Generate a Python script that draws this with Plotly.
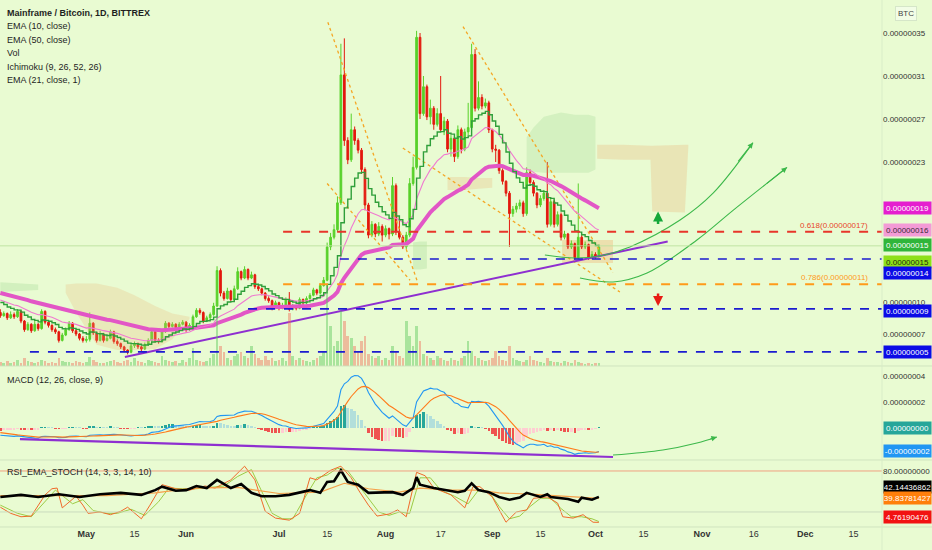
import plotly.graph_objects as go

# ---------------- data (prices in satoshi = 1e-8 BTC) ----------------
BAR0 = -81  # bar index of first candle; bar 0 = Jul 1
first_open = 9.0
closes = [
    8.7, 8.9, 8.5, 8.8, 8.6, 9.1, 8.2, 7.4, 7.9, 7.3,
    7.9, 7.5, 9.1, 8.1, 7.8, 7.4, 7.2, 6.4, 6.9, 7.4,
    8.0, 7.3, 7.0, 6.6, 6.4, 6.5, 8.0, 7.1, 6.4, 7.0,
    6.4, 6.6, 7.2, 6.3, 6.1, 5.8, 5.5, 5.3, 5.9, 6.1,
    5.8, 5.6, 6.0, 6.4, 7.2, 6.4, 6.3, 7.2, 8.0, 7.7,
    7.9, 7.6, 7.9, 8.1, 7.4, 7.8, 8.6, 9.2, 9.0, 8.2,
    8.5, 8.8, 9.6, 12.9, 10.8, 10.3, 11.0, 10.2, 11.2, 12.8,
    12.2, 13.0, 12.2, 12.5, 11.4, 11.2, 10.8, 10.3, 10.1, 9.4,
    9.9, 9.4, 9.6, 10.2, 9.3, 9.6, 9.4, 10.2, 9.9, 10.3,
    10.6, 11.1, 10.8, 11.5, 12.0, 15.1, 16.0, 16.7, 19.2, 31.1,
    25.0, 23.2, 26.0, 25.0, 24.1, 22.3, 19.0, 16.2, 17.2, 16.3,
    17.0, 16.2, 16.8, 16.3, 20.8, 16.5, 16.0, 15.1, 16.2, 21.0,
    22.5, 34.6, 27.5, 30.0, 27.2, 28.0, 26.5, 27.5, 26.0, 26.8,
    24.2, 25.2, 23.5, 26.0, 24.2, 25.8, 26.2, 33.0, 28.0, 29.0,
    28.2, 28.5, 26.0, 24.2, 24.1, 22.2, 21.2, 20.1, 18.2, 18.6,
    18.9, 19.2, 18.2, 22.0, 21.1, 20.1, 19.0, 19.6, 20.1, 17.2,
    19.3, 17.2, 18.1, 16.0, 16.3, 15.1, 15.4, 14.1, 16.0, 15.1,
    15.3, 14.1, 14.4, 14.2, 15.1,
]
highs = [
    9.3, 9.1, 9.0, 9.1, 9.0, 9.3, 9.2, 8.3, 8.1, 8.0,
    8.2, 8.0, 9.3, 9.2, 8.3, 7.9, 7.6, 7.3, 7.1, 7.6,
    8.2, 8.1, 7.4, 7.1, 6.8, 6.8, 9.0, 8.1, 7.2, 7.3,
    7.1, 6.9, 7.4, 7.3, 6.5, 6.2, 5.9, 5.6, 6.1, 6.3,
    6.2, 5.9, 6.2, 6.6, 7.4, 7.3, 6.6, 7.4, 8.2, 8.1,
    8.1, 8.0, 8.1, 8.3, 8.2, 8.0, 8.8, 9.4, 9.4, 9.1,
    8.7, 9.0, 9.9, 13.3, 13.1, 11.0, 11.3, 11.1, 11.5, 13.2,
    12.9, 13.3, 13.1, 12.8, 12.6, 11.6, 11.3, 10.9, 10.5, 10.2,
    10.1, 10.0, 9.9, 10.4, 10.9, 9.8, 9.7, 10.4, 10.3, 10.5,
    10.8, 11.3, 11.2, 11.7, 12.3, 15.5, 16.4, 17.2, 19.8, 34.0,
    34.5, 25.3, 27.5, 26.3, 25.2, 24.3, 22.5, 19.2, 17.5, 17.3,
    17.4, 17.2, 17.1, 16.9, 21.6, 21.0, 17.9, 16.2, 16.5, 21.5,
    23.5, 35.2, 35.0, 31.0, 30.2, 28.8, 28.2, 28.0, 31.0, 27.2,
    27.0, 25.5, 25.3, 26.4, 26.2, 26.1, 28.5, 34.0, 33.5, 30.5,
    29.3, 28.9, 28.7, 26.1, 24.6, 24.2, 22.4, 21.3, 20.3, 18.9,
    19.2, 19.5, 19.4, 22.5, 22.3, 21.3, 20.2, 19.9, 20.4, 23.0,
    19.6, 19.5, 18.4, 18.3, 16.6, 16.4, 15.7, 15.5, 21.0, 16.2,
    15.6, 15.4, 14.7, 14.6, 15.3,
]
lows = [
    8.5, 8.6, 8.3, 8.4, 8.4, 8.5, 8.0, 7.2, 7.3, 7.1,
    7.2, 7.3, 7.4, 7.9, 7.6, 7.2, 7.0, 6.2, 6.3, 6.8,
    7.3, 7.1, 6.8, 6.4, 6.2, 6.2, 6.3, 6.9, 6.2, 6.3,
    6.2, 6.3, 6.5, 6.1, 5.9, 5.6, 5.3, 5.1, 5.2, 5.7,
    5.6, 5.4, 5.5, 5.9, 6.3, 6.2, 6.1, 6.2, 7.1, 7.5,
    7.6, 7.4, 7.5, 7.8, 7.2, 7.3, 7.7, 8.5, 8.8, 8.0,
    8.1, 8.4, 8.7, 9.5, 10.5, 10.1, 10.2, 10.0, 10.1, 11.1,
    12.0, 12.1, 12.0, 12.1, 11.2, 11.0, 10.6, 10.1, 9.9, 9.2,
    9.3, 9.2, 9.3, 9.5, 9.1, 9.2, 9.2, 9.3, 9.7, 9.8,
    10.2, 10.5, 10.6, 10.7, 11.4, 11.9, 14.8, 15.8, 16.5, 19.0,
    24.5, 22.8, 23.0, 24.6, 23.8, 21.9, 18.5, 15.9, 16.0, 16.0,
    16.1, 15.6, 16.0, 15.8, 16.1, 16.2, 15.8, 14.9, 14.9, 16.0,
    20.8, 22.3, 27.0, 27.3, 26.9, 26.5, 26.0, 26.3, 25.8, 25.5,
    23.9, 23.5, 23.0, 23.3, 23.8, 24.0, 25.5, 26.0, 27.7, 27.8,
    27.9, 28.0, 25.7, 23.9, 23.0, 21.9, 20.9, 19.8, 15.1, 17.9,
    18.3, 18.6, 17.9, 18.0, 20.8, 19.8, 18.7, 18.8, 19.4, 16.9,
    17.0, 16.9, 17.0, 15.7, 15.8, 14.9, 14.9, 13.9, 14.0, 14.9,
    14.9, 13.9, 14.0, 14.0, 14.1,
]
volumes = [
    4, 3, 5, 3, 4, 6, 3, 8, 5, 4,
    3, 4, 6, 5, 3, 4, 3, 8, 5, 4,
    4, 3, 5, 4, 3, 4, 9, 6, 4, 3,
    3, 4, 5, 6, 4, 3, 5, 6, 4, 8,
    5, 4, 3, 6, 5, 4, 3, 10, 6, 5,
    4, 5, 3, 6, 4, 8, 18, 6, 5, 4,
    5, 8, 12, 48, 20, 14, 8, 6, 10, 12,
    14, 10, 8, 20, 12, 8, 6, 10, 6, 8,
    5, 6, 8, 5, 53, 10, 6, 8, 6, 5,
    4, 6, 8, 10, 15, 75, 40, 20, 25, 55,
    45, 30, 28, 20, 15, 25, 30, 12, 10, 8,
    10, 6, 8, 6, 20, 15, 10, 8, 45, 30,
    20, 40, 25, 12, 10, 8, 6, 10, 8, 6,
    5, 8, 6, 5, 8, 10, 25, 15, 10, 8,
    6, 5, 6, 8, 15, 10, 6, 5, 20, 8,
    6, 5, 4, 6, 10, 6, 5, 4, 3, 8,
    5, 4, 4, 3, 5, 4, 3, 6, 4, 3,
    2, 3, 2, 3, 3,
]
# indicator seeds read at the left edge
ema10_seed, ema21_seed, ema50_seed = 10.2, 10.3, 10.9
ema12_seed, ema26_seed, signal_seed = 9.9, 10.4, -0.3

# RSI_EMA_STOCH pane (bar index, value)
rsi_x = [-81, -75, -70, -64, -58, -52, -46, -40, -36, -34, -30, -27, -24, -21, -18, -14, -11, -8, -5, -1,
         3, 6, 9, 12, 14, 16, 18, 20, 23, 26, 29, 33, 36, 39, 40, 41, 45, 49, 52, 54,
         56, 58, 61, 64, 67, 70, 72, 76, 78, 79, 84, 87, 88, 91, 93]
rsi_v = [42, 45, 42, 46, 42, 46, 48, 45, 52, 57, 51, 52, 58, 55, 67, 55, 61, 48, 43, 43,
         45, 49, 52, 48, 64, 65, 81, 64, 60, 48, 48, 49, 45, 55, 71, 60, 55, 52, 49, 51,
         62, 52, 49, 42, 38, 41, 48, 42, 46, 42, 39, 35, 41, 38, 42.1]
rsi_ema_x = [-81, -50, -36, -25, -12, 0, 12, 19, 26, 35, 41, 50, 58, 64, 73, 82, 93]
rsi_ema_v = [44, 44, 48, 55, 56, 47, 49, 62, 54, 49, 55, 52, 52, 48, 46, 43, 39.8]
stk_x = [-81, -78, -75, -72, -68, -66, -64.5, -63, -59, -57, -55.5, -52, -49, -46, -44, -40, -37.5, -34, -30, -26,
         -21.5, -18.6, -14, -10, -7, -4, -1, 3, 6, 9, 11, 15, 18, 21, 23.5, 26, 28.5, 32, 34.5, 37,
         40, 42.5, 45, 50, 54, 56.4, 58.4, 62, 65, 66, 69, 72, 74, 78, 81, 82.5, 85.5, 88.4, 91.3, 93]
stk_v = [27, 18, 13, 14, 45, 54, 55, 26, 43, 30, 18, 20, 16, 21, 27, 10, 30, 60, 54, 52,
         58, 55, 67, 87, 67, 21, 11, 8, 18, 70, 67, 81, 87, 70, 49, 30, 14, 17, 23, 13,
         78, 73, 55, 45, 26, 57, 57, 42, 14, 5, 20, 23, 40, 42, 33, 13, 11, 16, 5, 4.8]
std_x = [-81, -76, -72, -69, -65, -62, -60, -57, -54, -50, -47, -43, -39, -35, -32, -28, -24, -20, -16, -12,
         -8, -5, -2, 1, 4, 8, 11, 14, 17, 20, 23, 26, 29, 32, 35, 38, 41, 44, 47, 51,
         55, 58, 61, 64, 67, 70, 73, 76, 79, 82, 85, 88, 91, 93]
std_v = [30, 18, 13, 30, 52, 40, 32, 38, 22, 18, 18, 24, 15, 35, 55, 54, 54, 56, 58, 72,
         82, 50, 18, 10, 10, 45, 70, 74, 84, 80, 60, 40, 20, 15, 20, 18, 70, 70, 52, 43,
         32, 52, 50, 28, 10, 14, 28, 40, 40, 25, 13, 13, 10, 6]

# Ichimoku cloud segments: (bars, upper span, lower span)
cloud_a_x = [-81, -75, -70]
cloud_a_top = [11.8, 11.7, 11.6]
cloud_a_bot = [10.9, 11.0, 11.1]
cloud_b_x = [-62, -59, -53, -47, -42, -36, -31, -26]
cloud_b_top = [11.6, 11.7, 11.7, 11.3, 10.6, 9.6, 8.9, 8.6]
cloud_b_bot = [10.8, 9.0, 6.0, 5.5, 5.5, 5.6, 6.5, 8.4]
cloud_c_x = [39, 41, 43]
cloud_c_top = [15.5, 15.6, 15.6]
cloud_c_bot = [13.0, 13.0, 13.1]
cloud_d_x = [49, 54, 58, 62]
cloud_d_top = [21.6, 21.6, 21.5, 21.5]
cloud_d_bot = [20.4, 20.4, 20.5, 20.6]
cloud_e_x = [72, 74, 77, 82, 86, 90, 92]
cloud_e_top = [25.3, 26.2, 27.2, 27.6, 27.4, 27.4, 27.2]
cloud_e_bot = [22.1, 22.1, 22.0, 22.0, 22.0, 22.0, 22.3]
cloud_f_x = [92.5, 100, 108, 108.5, 118, 119]
cloud_f_top = [24.6, 24.6, 24.5, 24.5, 24.6, 24.6]
cloud_f_bot = [23.3, 23.2, 23.2, 18.4, 18.3, 24.4]

# horizontal levels: (price, first bar)
fib618, fib786 = 16.52, 11.62
blue_levels = [(13.98, 17.7), (9.33, -9.0), (5.33, -72.4)]
last_price_line = 15.2

# trendlines (bar, price)
purple_main = [(-44.8, 4.86), (113.0, 15.6)]
purple_macd = [(-75.3, -0.85), (97.1, -2.23)]
dotted_lines = [[(14.2, 36.0), (40.1, 12.0)], [(14.0, 21.0), (38.1, 12.0)],
                [(36.0, 24.3), (99.1, 10.9)], [(53.5, 35.6), (97.1, 12.7)]]
curve_a_x = [77.3, 86.0, 93.3, 102.0, 116.6, 126.2, 137.8]
curve_a_y = [14.35, 14.07, 14.26, 15.1, 17.6, 20.1, 24.8]
curve_b_x = [87.5, 97.1, 107.0, 121.5, 132.0, 147.7]
curve_b_y = [12.2, 11.84, 12.67, 15.74, 18.5, 22.5]
curve_m_x = [97.1, 111.6, 121.5, 127.3]
curve_m_y = [-2.08, -1.69, -1.15, -0.69]
box_bars = (82.3, 97.1)
box_prices = (13.6, 15.74)

tick_bars = [-56, -42, -27, 0, 14, 31, 47, 62, 76, 92, 106, 123, 138, 153, 167]
tick_text = ["<b>May</b>", "15", "<b>Jun</b>", "<b>Jul</b>", "15", "<b>Aug</b>", "17", "<b>Sep</b>", "15",
             "<b>Oct</b>", "15", "<b>Nov</b>", "16", "<b>Dec</b>", "15"]
price_ticks = [7, 10, 23, 27, 31, 35]
macd_ticks = [2, 4]

# ---------------- derived ----------------
bars = list(range(BAR0, BAR0 + len(closes)))
opens = [first_open] + closes[:-1]
highs = [max(h, o, c) for h, o, c in zip(highs, opens, closes)]
lows = [min(l, o, c) for l, o, c in zip(lows, opens, closes)]


def ema(vals, n, seed):
    a = 2.0 / (n + 1)
    e = seed
    out = []
    for v in vals:
        e = e + a * (v - e)
        out.append(e)
    return out


ema10 = ema(closes, 10, ema10_seed)
ema21 = ema(closes, 21, ema21_seed)
ema50 = ema(closes, 50, ema50_seed)
macd = [a - b for a, b in zip(ema(closes, 12, ema12_seed), ema(closes, 26, ema26_seed))]
signal = ema(macd, 9, signal_seed)
hist = [m - s for m, s in zip(macd, signal)]
hist_col = []
prev = 0
for h in hist:
    if h >= 0:
        hist_col.append("#26a69a" if h >= prev else "#b2dfdb")
    else:
        hist_col.append("#ffcdd2" if h > prev else "#ef5350")
    prev = h

W, H = 932, 550
PLOT_R = 882
XR = [-81.1, 175.3]
BG = "#e9fbd2"
FONT = "Liberation Sans, Arial, sans-serif"


def py(px):
    return 1 - px / H


fig = go.Figure()

# Ichimoku clouds
for xs, top, bot, col in [(cloud_a_x, cloud_a_top, cloud_a_bot, "rgba(120,200,110,0.20)"),
                          (cloud_b_x, cloud_b_top, cloud_b_bot, "rgba(235,180,120,0.26)"),
                          (cloud_c_x, cloud_c_top, cloud_c_bot, "rgba(120,200,110,0.20)"),
                          (cloud_d_x, cloud_d_top, cloud_d_bot, "rgba(235,180,120,0.28)"),
                          (cloud_e_x, cloud_e_top, cloud_e_bot, "rgba(130,205,120,0.20)"),
                          (cloud_f_x, cloud_f_top, cloud_f_bot, "rgba(235,180,120,0.30)")]:
    fig.add_trace(go.Scatter(x=xs, y=bot, mode="lines", line=dict(width=0), hoverinfo="skip",
                             showlegend=False, yaxis="y"))
    fig.add_trace(go.Scatter(x=xs, y=top, mode="lines", line=dict(width=0), fill="tonexty",
                             fillcolor=col, hoverinfo="skip", showlegend=False, yaxis="y"))

# volume
vol_col = ["rgba(90,200,90,0.45)" if c >= o else "rgba(240,110,90,0.45)" for o, c in zip(opens, closes)]
fig.add_trace(go.Bar(x=bars, y=volumes, marker=dict(color=vol_col, line=dict(width=0)), width=0.75,
                     yaxis="y4", showlegend=False))

# tan box
fig.add_shape(type="rect", x0=box_bars[0], x1=box_bars[1], y0=box_prices[0], y1=box_prices[1],
              xref="x", yref="y", fillcolor="rgba(240,190,130,0.45)", line=dict(width=0), layer="below")

# horizontal lines
fig.add_shape(type="line", x0=XR[0], x1=XR[1], y0=last_price_line, y1=last_price_line, xref="x", yref="y",
              line=dict(color="rgba(190,225,160,0.9)", width=1))
fig.add_shape(type="line", x0=1.2, x1=XR[1], y0=fib618, y1=fib618, xref="x", yref="y",
              line=dict(color="#e8352a", width=2, dash="dash"))
fig.add_shape(type="line", x0=1.2, x1=XR[1], y0=fib786, y1=fib786, xref="x", yref="y",
              line=dict(color="#ff9a1a", width=2, dash="dash"))
for lvl, x0 in blue_levels:
    fig.add_shape(type="line", x0=x0, x1=XR[1], y0=lvl, y1=lvl, xref="x", yref="y",
                  line=dict(color="#1b1bd0", width=1.6, dash="dash"))

# dotted trendlines
for (xa, ya), (xb, yb) in dotted_lines:
    fig.add_trace(go.Scatter(x=[xa, xb], y=[ya, yb], mode="lines", line=dict(color="#f5a623", width=1.3, dash="dot"),
                             hoverinfo="skip", showlegend=False, yaxis="y"))

# EMAs
fig.add_trace(go.Scatter(x=bars, y=ema50, mode="lines", line=dict(color="#e256c6", width=4),
                         hoverinfo="skip", showlegend=False, yaxis="y"))
fig.add_trace(go.Scatter(x=bars, y=ema21, mode="lines", line=dict(color="#f07ad0", width=1.1),
                         hoverinfo="skip", showlegend=False, yaxis="y"))
fig.add_trace(go.Scatter(x=bars, y=ema10, mode="lines", line=dict(color="#2f9f3a", width=1.4, shape="hv"),
                         hoverinfo="skip", showlegend=False, yaxis="y"))

# candles
fig.add_trace(go.Candlestick(x=bars, open=opens, high=highs, low=lows, close=closes,
                             increasing=dict(line=dict(color="#58d12a", width=1), fillcolor="#58d12a"),
                             decreasing=dict(line=dict(color="#e3190e", width=1), fillcolor="#e3190e"),
                             whiskerwidth=0, showlegend=False, yaxis="y"))

# purple trendline main
fig.add_trace(go.Scatter(x=[p[0] for p in purple_main], y=[p[1] for p in purple_main], mode="lines",
                         line=dict(color="#8e2fd0", width=2), hoverinfo="skip", showlegend=False, yaxis="y"))

# green curved arrows
for xs, ys, ax in [(curve_a_x, curve_a_y, "y"), (curve_b_x, curve_b_y, "y"), (curve_m_x, curve_m_y, "y2")]:
    fig.add_trace(go.Scatter(x=xs, y=ys, mode="lines", line=dict(color="#3cb84a", width=1.1, shape="spline"),
                             hoverinfo="skip", showlegend=False, yaxis=ax))
    fig.add_annotation(x=xs[-1], y=ys[-1], ax=xs[-2] + (xs[-1] - xs[-2]) * 0.6, ay=ys[-2] + (ys[-1] - ys[-2]) * 0.6,
                       xref="x", yref=ax, axref="x", ayref=ax, showarrow=True, arrowhead=2, arrowsize=1,
                       arrowwidth=1.1, arrowcolor="#3cb84a", text="")

# up / down arrows
fig.add_annotation(x=110.2, y=18.4, ax=110.2, ay=17.1, xref="x", yref="y", axref="x", ayref="y", text="",
                   showarrow=True, arrowhead=2, arrowsize=0.8, arrowwidth=2.5, arrowcolor="#14a83a")
fig.add_annotation(x=110.2, y=9.6, ax=110.2, ay=10.9, xref="x", yref="y", axref="x", ayref="y", text="",
                   showarrow=True, arrowhead=2, arrowsize=0.8, arrowwidth=2.5, arrowcolor="#e81c14")

# MACD pane
fig.add_trace(go.Bar(x=bars, y=hist, marker=dict(color=hist_col, line=dict(width=0)), width=0.75,
                     yaxis="y2", showlegend=False))
fig.add_trace(go.Scatter(x=bars, y=macd, mode="lines", line=dict(color="#2196f3", width=1.1),
                         hoverinfo="skip", showlegend=False, yaxis="y2"))
fig.add_trace(go.Scatter(x=bars, y=signal, mode="lines", line=dict(color="#ff7a1a", width=1.1),
                         hoverinfo="skip", showlegend=False, yaxis="y2"))
fig.add_trace(go.Scatter(x=[p[0] for p in purple_macd], y=[p[1] for p in purple_macd], mode="lines",
                         line=dict(color="#8e2fd0", width=2.2), hoverinfo="skip", showlegend=False, yaxis="y2"))

# RSI pane
fig.add_shape(type="line", x0=XR[0], x1=XR[1], y0=80, y1=80, xref="x", yref="y3",
              line=dict(color="#f0a080", width=1))
fig.add_shape(type="line", x0=XR[0], x1=XR[1], y0=20, y1=20, xref="x", yref="y3",
              line=dict(color="rgba(200,215,190,0.9)", width=1))
fig.add_trace(go.Scatter(x=std_x, y=std_v, mode="lines", line=dict(color="#9ccc45", width=1),
                         hoverinfo="skip", showlegend=False, yaxis="y3"))
fig.add_trace(go.Scatter(x=stk_x, y=stk_v, mode="lines", line=dict(color="#f06a2a", width=1),
                         hoverinfo="skip", showlegend=False, yaxis="y3"))
fig.add_trace(go.Scatter(x=rsi_ema_x, y=rsi_ema_v, mode="lines", line=dict(color="#f5a04a", width=1.2),
                         hoverinfo="skip", showlegend=False, yaxis="y3"))
fig.add_trace(go.Scatter(x=rsi_x, y=rsi_v, mode="lines", line=dict(color="#000000", width=2.6),
                         hoverinfo="skip", showlegend=False, yaxis="y3"))

# pane separators & price-scale border
for px in (366, 460, 527):
    fig.add_shape(type="line", xref="paper", yref="paper", x0=0, x1=1, y0=py(px), y1=py(px),
                  line=dict(color="rgba(205,225,190,0.9)", width=1))
fig.add_shape(type="line", xref="paper", yref="paper", x0=PLOT_R / W, x1=PLOT_R / W, y0=0, y1=1,
              line=dict(color="rgba(215,235,200,0.9)", width=1))

# legend texts
legend_lines = ["<b>Mainframe / Bitcoin, 1D, BITTREX</b>", "EMA (10, close)", "EMA (50, close)", "Vol",
                "Ichimoku (9, 26, 52, 26)", "EMA (21, close, 1)"]
for k, t in enumerate(legend_lines):
    fig.add_annotation(x=5 / W, y=py(13 + 13.4 * k), xref="paper", yref="paper", text=t, showarrow=False,
                       xanchor="left", yanchor="middle",
                       font=dict(family=FONT, size=9, color="#1e1e1e"))
fig.add_annotation(x=5 / W, y=py(380), xref="paper", yref="paper", text="MACD (12, 26, close, 9)", showarrow=False,
                   xanchor="left", yanchor="middle", font=dict(family=FONT, size=9, color="#1e1e1e"))
fig.add_annotation(x=5 / W, y=py(472), xref="paper", yref="paper", text="RSI_EMA_STOCH (14, 3, 3, 14, 10)",
                   showarrow=False, xanchor="left", yanchor="middle", font=dict(family=FONT, size=9, color="#1e1e1e"))

# fib labels
fig.add_annotation(x=870 / W, y=fib618 + 0.6, xref="paper", yref="y", text="0.618(0.00000017)", showarrow=False,
                   xanchor="right", yanchor="middle", font=dict(family=FONT, size=8, color="#e8452a"))
fig.add_annotation(x=870 / W, y=fib786 + 0.6, xref="paper", yref="y", text="0.786(0.00000011)", showarrow=False,
                   xanchor="right", yanchor="middle", font=dict(family=FONT, size=8, color="#ff9a1a"))

# price-scale value boxes (pixel rows where the chart shows them)
value_boxes = [(208, "0.00000019", "#e51fcf", "white"), (230, "0.00000016", "#f39bd6", "#3a2a3a"),
               (245, "0.00000015", "#2fb53a", "white"), (262, "0.00000015", "#8ee01a", "#1c2a10"),
               (273, "0.00000014", "#0b0be6", "white"), (311, "0.00000009", "#0b0be6", "white"),
               (352, "0.00000005", "#0b0be6", "white"), (428, "0.00000000", "#26a69a", "white"),
               (451, "-0.00000002", "#2196f3", "white"), (487, "42.14436862", "#000000", "white"),
               (498, "39.83781427", "#ff7f0a", "white"), (517, "4.76190476", "#f21212", "white")]
for px, t, bg, fc in value_boxes:
    fig.add_annotation(x=(PLOT_R + 1) / W, y=py(px), xref="paper", yref="paper", text=t, showarrow=False,
                       xanchor="left", yanchor="middle", bgcolor=bg, width=47, height=12, align="center",
                       borderpad=0, font=dict(family=FONT, size=8, color=fc))
fig.add_annotation(x=906 / W, y=py(13), xref="paper", yref="paper", text="BTC", showarrow=False,
                   xanchor="center", yanchor="middle",
                   bgcolor="#f2fde6", bordercolor="#d5e6c8", borderwidth=1, borderpad=2,
                   font=dict(family=FONT, size=8, color="#444"))

axis_font = dict(family=FONT, size=8, color="#333")
fig.update_layout(
    width=W, height=H, margin=dict(l=0, r=0, t=0, b=0),
    paper_bgcolor=BG, plot_bgcolor=BG, showlegend=False, bargap=0,
    xaxis=dict(domain=[0, PLOT_R / W], range=XR, anchor="y3", showgrid=False, zeroline=False,
               tickvals=tick_bars, ticktext=tick_text, ticks="", tickfont=dict(family=FONT, size=9, color="#333"),
               rangeslider=dict(visible=False), showline=False, fixedrange=True),
    yaxis=dict(domain=[py(366), 1], range=[4.02, 38.07], side="right", anchor="x", showgrid=False,
               zeroline=False, tickvals=price_ticks, ticktext=["%.8f" % (v * 1e-8) for v in price_ticks],
               ticks="", tickfont=axis_font),
    yaxis2=dict(domain=[py(460), py(367)], range=[-2.46, 4.69], side="right", anchor="x", showgrid=False,
                zeroline=False, tickvals=macd_ticks, ticktext=["%.8f" % (v * 1e-8) for v in macd_ticks],
                ticks="", tickfont=axis_font),
    yaxis3=dict(domain=[py(527), py(461)], range=[-2.0, 94.6], side="right", anchor="x", showgrid=False,
                zeroline=False, tickvals=[80], ticktext=["80.00000000"], ticks="", tickfont=axis_font),
    yaxis4=dict(overlaying="y", range=[0, 366], visible=False, anchor="x"),
)

fig.write_html("out.html", config={"displayModeBar": False},
               post_script="document.body.style.margin='0px';")
